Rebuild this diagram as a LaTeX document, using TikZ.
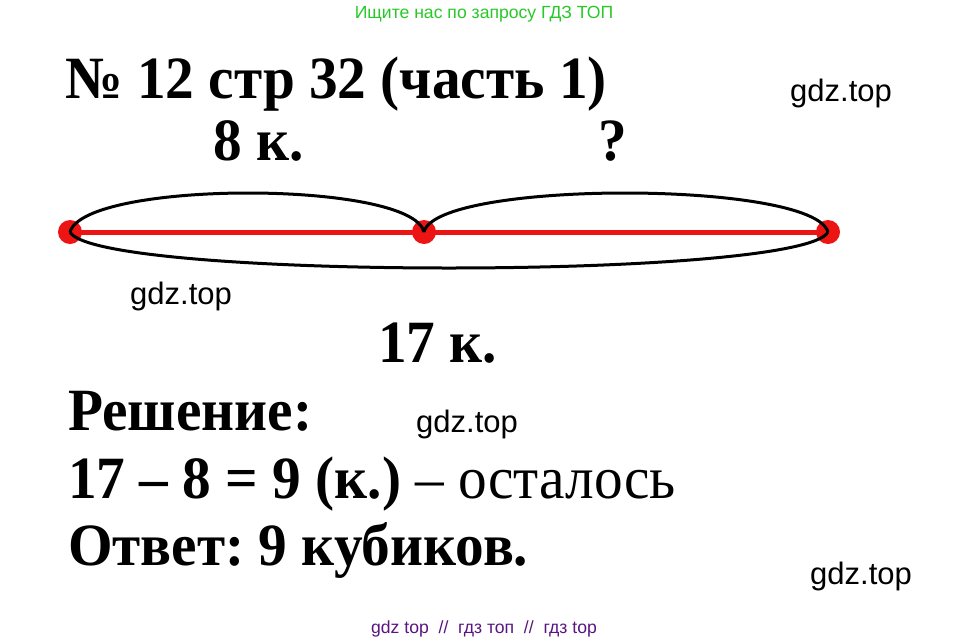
\documentclass[tikz,border=0pt]{standalone}
\usepackage{fontspec}
\setmainfont{Liberation Serif}[FakeStretch=0.955]
\newfontfamily\wmfont{Liberation Sans}
\definecolor{segred}{RGB}{237,20,20}
\definecolor{adgreen}{RGB}{40,200,40}
\definecolor{adpurple}{RGB}{90,20,130}
\tikzset{
  big/.style={anchor=base west, inner sep=0pt, font=\fontsize{60}{60}\selectfont\bfseries},
  wm/.style={anchor=base west, inner sep=0pt, font=\wmfont\fontsize{31}{31}\selectfont},
  ad/.style={anchor=base, inner sep=0pt, font=\wmfont\fontsize{17.6}{17.6}\selectfont},
  dot/.style={circle, fill=segred, minimum size=24pt, inner sep=0pt},
  arc/.style={black, line width=3pt}
}
\frenchspacing
\begin{document}
\begin{tikzpicture}[x=1pt, y=-1pt]
      \useasboundingbox (0,0) rectangle (968,643);

      % Header and footer lines
      \node[ad, text=adgreen] (search) at (484,18) {Ищите нас по запросу ГДЗ ТОП};
      \node[ad, text=adpurple] (footer) at (484,633) {gdz top \ // \ гдз топ \ // \ гдз top};

      % Title
      \node[big] (title) at (65,98) {№ 12 стр 32 (часть 1)};

      % Segment with its three points
      \node[dot] (left) at (70,232) {};
      \node[dot] (mid) at (424,232) {};
      \node[dot] (right) at (828,232) {};
      \draw[segred, line width=5pt] (left.center) -- (right.center);

      % Braces over and under the segment
      \draw[arc] (left.center) .. controls +(15,-52) and +(-12,-52) .. (mid.center);
      \draw[arc] (mid.center) .. controls +(12,-52) and +(-15,-52) .. (right.center);
      \draw[arc] (left.center) .. controls +(25,48) and +(-25,48) .. (right.center);

      % Labels of the parts
      \node[big] (part1) at (213,160) {8 к.};
      \node[big] (part2) at (598,160) {?};
      \node[big] (whole) at (378,362) {17 к.};

      % Solution
      \node[big] (sol) at (68,430) {Решение:};
      \node[big] (calc) at (68,498) {17 – 8 = 9 (к.) \mdseries– осталось};
      \node[big] (answer) at (68,565) {Ответ: 9 кубиков.};

      % Watermarks
      \node[wm] (wm1) at (790,101) {gdz.top};
      \node[wm] (wm2) at (130,304) {gdz.top};
      \node[wm] (wm3) at (416,432) {gdz.top};
      \node[wm] (wm4) at (810,584) {gdz.top};
\end{tikzpicture}
\end{document}
